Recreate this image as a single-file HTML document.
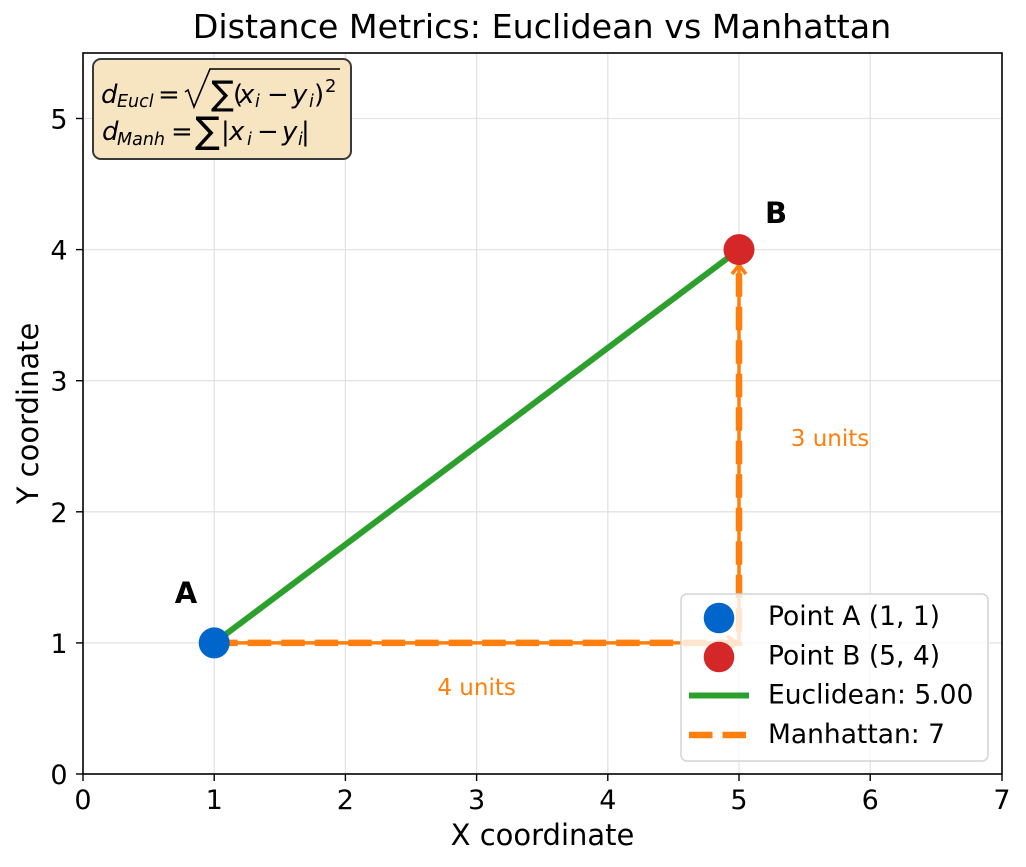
<!DOCTYPE html>
<html><head><meta charset="utf-8"><style>
html,body{margin:0;padding:0;background:#fff;}
svg{display:block;}
text{font-family:"DejaVu Sans","Liberation Sans",sans-serif;}
.it{font-style:italic;}
</style></head><body>
<svg width="1026" height="867" viewBox="0 0 1026 867" xmlns="http://www.w3.org/2000/svg">
<rect width="1026" height="867" fill="#fff"/>
<!-- grid -->
<g stroke="#e3e3e3" stroke-width="1.3">
<line x1="214.2" y1="53" x2="214.2" y2="774"/>
<line x1="345.4" y1="53" x2="345.4" y2="774"/>
<line x1="476.6" y1="53" x2="476.6" y2="774"/>
<line x1="607.8" y1="53" x2="607.8" y2="774"/>
<line x1="739" y1="53" x2="739" y2="774"/>
<line x1="870.2" y1="53" x2="870.2" y2="774"/>
<line x1="83" y1="642.9" x2="1002" y2="642.9"/>
<line x1="83" y1="511.8" x2="1002" y2="511.8"/>
<line x1="83" y1="380.7" x2="1002" y2="380.7"/>
<line x1="83" y1="249.6" x2="1002" y2="249.6"/>
<line x1="83" y1="118.5" x2="1002" y2="118.5"/>
</g>
<!-- Euclidean -->
<line x1="214.2" y1="642.9" x2="739" y2="249.6" stroke="#2ca02c" stroke-width="6"/>
<!-- Manhattan thin arrows -->
<polyline points="214.2,642.9 739,642.9 739,266" fill="none" stroke="#ff7f0e" stroke-width="3.5"/>
<polyline points="732,274 739,265 746,274" fill="none" stroke="#ff7f0e" stroke-width="3.5"/>
<polyline points="727,636 737,643 727,650" fill="none" stroke="#ff7f0e" stroke-width="3.5"/>
<!-- Manhattan dashed -->
<polyline points="214.2,642.9 739,642.9 739,249.6" fill="none" stroke="#ff7f0e" stroke-width="6.5" stroke-dasharray="23.5 10"/>
<!-- markers -->
<circle cx="214.2" cy="642.9" r="15.5" fill="#0066cc"/>
<circle cx="739" cy="249.6" r="15.5" fill="#d62728"/>
<!-- point labels -->
<text x="186" y="603" font-size="29" font-weight="bold" text-anchor="middle">A</text>
<text x="776" y="223" font-size="29" font-weight="bold" text-anchor="middle">B</text>
<text x="830" y="446" font-size="23" fill="#ff7f0e" text-anchor="middle">3 units</text>
<text x="476.6" y="695" font-size="23" fill="#ff7f0e" text-anchor="middle">4 units</text>
<!-- equation box -->
<rect x="93" y="59" width="258" height="100" rx="8" ry="8" fill="#f7e5c2" stroke="#3a3a3a" stroke-width="2"/>
<g font-size="26">
<text x="101" y="103" class="it">d</text>
<text x="117" y="107" font-size="17.5" class="it">Eucl</text>
<text x="158" y="103">=</text>
<polyline points="185,92 188,90 194,107 210,69 340,69" fill="none" stroke="#000" stroke-width="1.6"/>
<text x="211" y="105" font-size="34">∑</text>
<text x="233" y="103">(</text>
<text x="239" y="103" class="it">x</text>
<text x="255" y="107" font-size="17.5" class="it">i</text>
<text x="267" y="103">−</text>
<text x="292" y="103" class="it">y</text>
<text x="309" y="107" font-size="17.5" class="it">i</text>
<text x="314" y="103">)</text>
<text x="325" y="92" font-size="18">2</text>

<text x="102" y="140" class="it">d</text>
<text x="117" y="145" font-size="17.5" class="it">Manh</text>
<text x="171" y="140">=</text>
<text x="195" y="143" font-size="37">∑</text>
<text x="221" y="140">|</text>
<text x="229" y="140" class="it">x</text>
<text x="247" y="145" font-size="17.5" class="it">i</text>
<text x="257" y="140">−</text>
<text x="282" y="140" class="it">y</text>
<text x="298" y="145" font-size="17.5" class="it">i</text>
<text x="301" y="140">|</text>
</g>
<!-- legend -->
<rect x="681" y="594" width="307" height="167" rx="6" ry="6" fill="rgba(255,255,255,0.8)" stroke="#d4d4d4" stroke-width="1.5"/>
<circle cx="719" cy="618" r="15.3" fill="#0066cc"/>
<circle cx="719" cy="657" r="15.3" fill="#d62728"/>
<line x1="689" y1="695.5" x2="749" y2="695.5" stroke="#2ca02c" stroke-width="6"/>
<line x1="689" y1="735" x2="749" y2="735" stroke="#ff7f0e" stroke-width="6.5" stroke-dasharray="23.5 10"/>
<g font-size="26.5">
<text x="768" y="625">Point A (1, 1)</text>
<text x="768" y="664.3">Point B (5, 4)</text>
<text x="768" y="703.6">Euclidean: 5.00</text>
<text x="768" y="742.9">Manhattan: 7</text>
</g>
<!-- spines -->
<rect x="83" y="53" width="919" height="721" fill="none" stroke="#000" stroke-width="1.6"/>
<!-- ticks -->
<g stroke="#000" stroke-width="1.4">
<line x1="83" y1="774" x2="83" y2="781"/>
<line x1="214.2" y1="774" x2="214.2" y2="781"/>
<line x1="345.4" y1="774" x2="345.4" y2="781"/>
<line x1="476.6" y1="774" x2="476.6" y2="781"/>
<line x1="607.8" y1="774" x2="607.8" y2="781"/>
<line x1="739" y1="774" x2="739" y2="781"/>
<line x1="870.2" y1="774" x2="870.2" y2="781"/>
<line x1="1002" y1="774" x2="1002" y2="781"/>
<line x1="76" y1="774" x2="83" y2="774"/>
<line x1="76" y1="642.9" x2="83" y2="642.9"/>
<line x1="76" y1="511.8" x2="83" y2="511.8"/>
<line x1="76" y1="380.7" x2="83" y2="380.7"/>
<line x1="76" y1="249.6" x2="83" y2="249.6"/>
<line x1="76" y1="118.5" x2="83" y2="118.5"/>
</g>
<g font-size="27" text-anchor="middle">
<text x="83" y="809">0</text>
<text x="214.2" y="809">1</text>
<text x="345.4" y="809">2</text>
<text x="476.6" y="809">3</text>
<text x="607.8" y="809">4</text>
<text x="739" y="809">5</text>
<text x="870.2" y="809">6</text>
<text x="1002" y="809">7</text>
</g>
<g font-size="27" text-anchor="end">
<text x="67.5" y="784">0</text>
<text x="67.5" y="652.9">1</text>
<text x="67.5" y="521.8">2</text>
<text x="67.5" y="390.7">3</text>
<text x="67.5" y="259.6">4</text>
<text x="67.5" y="128.5">5</text>
</g>
<!-- labels -->
<text x="542.5" y="845" font-size="29" text-anchor="middle">X coordinate</text>
<text transform="translate(38,413.5) rotate(-90)" font-size="29" text-anchor="middle">Y coordinate</text>
<text x="542" y="38" font-size="33.3" text-anchor="middle">Distance Metrics: Euclidean vs Manhattan</text>
</svg>
</body></html>
